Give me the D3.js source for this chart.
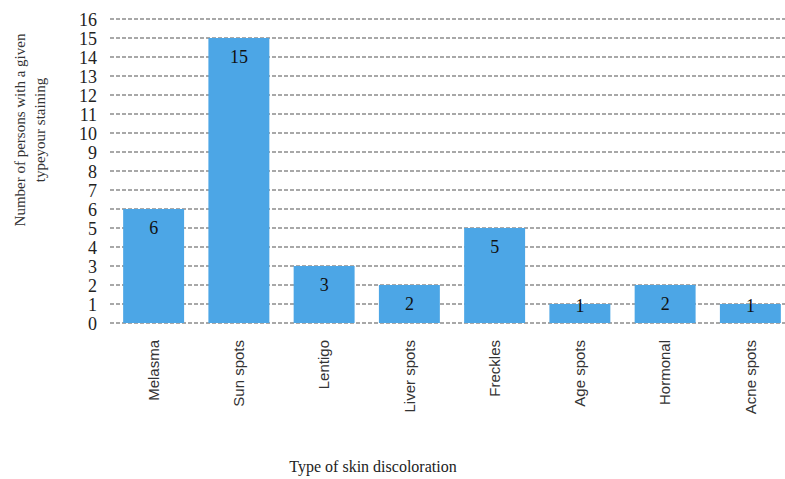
<!DOCTYPE html>
<html>
<head>
<meta charset="utf-8">
<script src="https://cdn.jsdelivr.net/npm/d3@7"></script>
<style>
  html, body { margin: 0; padding: 0; background: #fff; }
  svg { display: block; }
</style>
</head>
<body>
<svg id="chart" width="785" height="479"></svg>
<script>
// Skin discoloration survey: number of persons per staining type
const categories = ["Melasma", "Sun spots", "Lentigo", "Liver spots", "Freckles", "Age spots", "Hormonal", "Acne spots"];
const counts = [6, 15, 3, 2, 5, 1, 2, 1];
const yTicks = [0, 1, 2, 3, 4, 5, 6, 7, 8, 9, 10, 11, 12, 13, 14, 15, 16];
const yTitleLines = ["Number of persons with a given", "typeyour staining"];
const xTitle = "Type of skin discoloration";

const svg = d3.select("#chart");

const x = d3.scaleBand()
  .domain(categories)
  .range([111, 793])
  .paddingInner(0.285)
  .paddingOuter(0.1425);

const y = d3.scaleLinear()
  .domain([0, 16])
  .range([323, 19]);

// dashed horizontal gridlines
svg.append("g")
  .selectAll("line")
  .data(yTicks)
  .join("line")
  .attr("x1", 110)
  .attr("x2", 785)
  .attr("y1", d => y(d))
  .attr("y2", d => y(d))
  .attr("stroke", "#8c8c8c")
  .attr("stroke-width", 1.6)
  .attr("stroke-dasharray", "4,2");

// y tick labels
const yAxis = d3.axisLeft(y).tickValues(yTicks).tickSize(0).tickPadding(0).tickFormat(d3.format("d"));
const yg = svg.append("g")
  .attr("transform", "translate(97,0)")
  .call(yAxis);
yg.select(".domain").remove();
yg.selectAll("text")
  .attr("font-family", "'Liberation Serif', 'Times New Roman', serif")
  .attr("font-size", 18)
  .attr("fill", "#222")
  .attr("dy", "0.34em");

// bars
svg.append("g")
  .selectAll("rect")
  .data(categories)
  .join("rect")
  .attr("x", d => x(d))
  .attr("width", x.bandwidth())
  .attr("y", (d, i) => y(counts[i]))
  .attr("height", (d, i) => y(0) - y(counts[i]))
  .attr("fill", "#4ca6e6");

// value labels near the top of each bar; short bars get the label on their top edge
svg.append("g")
  .selectAll("text")
  .data(categories)
  .join("text")
  .attr("x", d => x(d) + x.bandwidth() / 2)
  .attr("y", (d, i) => {
    const top = y(counts[i]);
    return (y(0) - top) >= 30 ? top + 25 : top + 8;
  })
  .attr("text-anchor", "middle")
  .attr("font-family", "'Liberation Serif', 'Times New Roman', serif")
  .attr("font-size", 18)
  .attr("fill", "#111")
  .text((d, i) => counts[i]);

// rotated category labels
const xAxis = d3.axisBottom(x).tickSize(0).tickPadding(0);
const xg = svg.append("g")
  .attr("transform", "translate(0,340)")
  .call(xAxis);
xg.select(".domain").remove();
xg.selectAll("text")
  .attr("font-family", "'Liberation Sans', Arial, sans-serif")
  .attr("font-size", 15)
  .attr("fill", "#333")
  .attr("text-anchor", "end")
  .attr("transform", "rotate(-90)")
  .attr("x", 0)
  .attr("y", 0)
  .attr("dx", 0)
  .attr("dy", "0.35em");

// y axis title (two lines, rotated)
const yt = svg.append("text")
  .attr("transform", "translate(20,130) rotate(-90)")
  .attr("text-anchor", "middle")
  .attr("font-family", "'Liberation Serif', 'Times New Roman', serif")
  .attr("font-size", 15)
  .attr("fill", "#333");
yTitleLines.forEach((line, i) => {
  yt.append("tspan")
    .attr("x", 0)
    .attr("dy", i === 0 ? "0.35em" : 20)
    .text(line);
});

// x axis title
svg.append("text")
  .attr("x", 373)
  .attr("y", 472)
  .attr("text-anchor", "middle")
  .attr("font-family", "'Liberation Serif', 'Times New Roman', serif")
  .attr("font-size", 16)
  .attr("fill", "#222")
  .text(xTitle);
</script>
</body>
</html>
